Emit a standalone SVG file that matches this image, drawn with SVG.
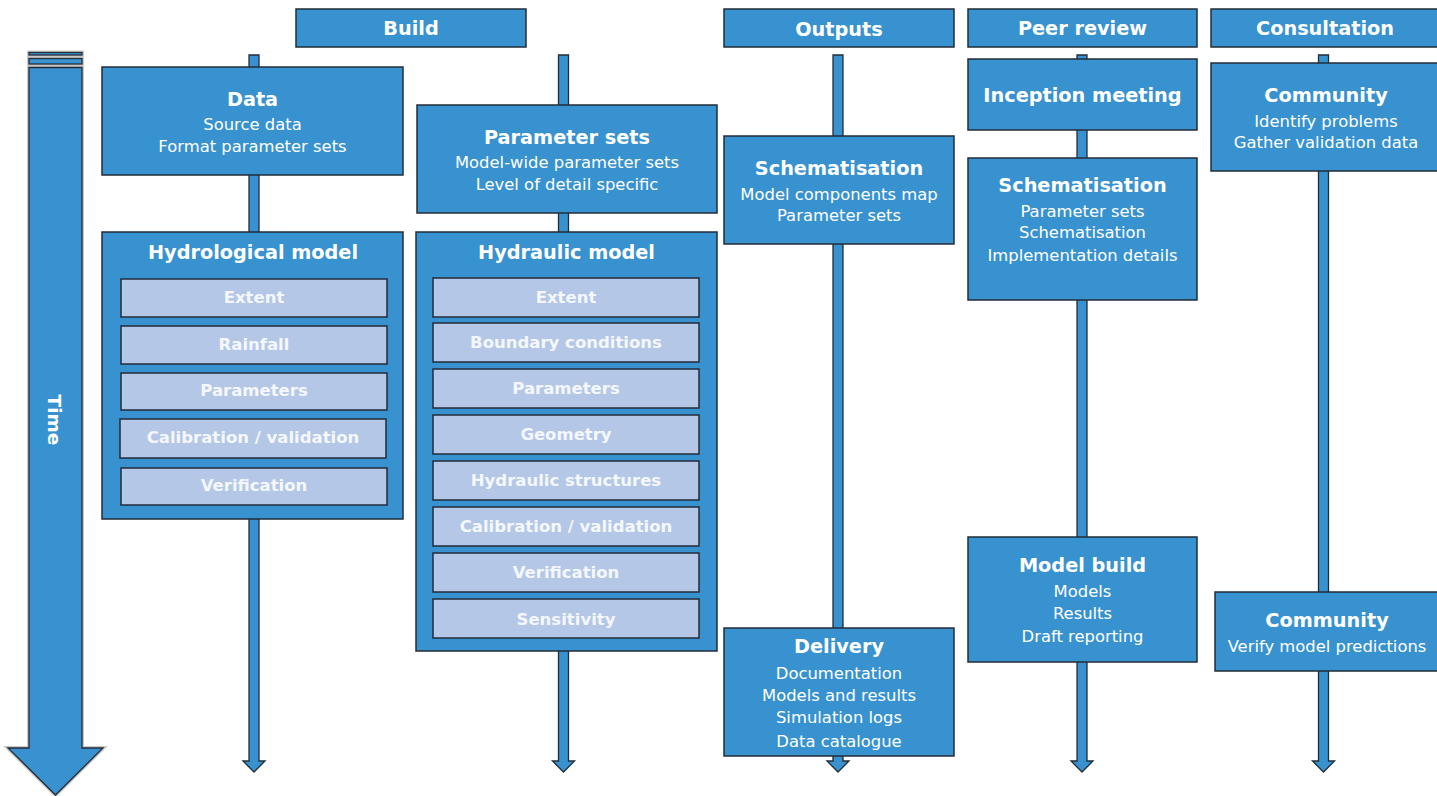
<svg xmlns="http://www.w3.org/2000/svg" width="1437" height="796" viewBox="0 0 1437 796">
<style>
.box{fill:#3892D0;stroke:#222d38;stroke-width:1.5}
.sub{fill:#B4C7E7;stroke:#222d38;stroke-width:1.5}
.arr{fill:#3892D0;stroke:#222d38;stroke-width:1.3}
text{font-family:"DejaVu Sans","Verdana",sans-serif;fill:#fff;text-anchor:middle}
.h{font-size:19.3px;font-weight:bold}
.t{font-size:19.3px;font-weight:bold}
.s{font-size:16.4px}
.i{font-size:16.5px;font-weight:bold;fill:#f4f7fc}
</style>
<rect width="1437" height="796" fill="#fff"/>
<g id="connectors">
<polygon class="arr" points="249,55 259,55 259,761 265,761 254,772 243,761 249,761"/>
<polygon class="arr" points="558.5,55 568.5,55 568.5,761 574.5,761 563.5,772 552.5,761 558.5,761"/>
<polygon class="arr" points="833,55 843,55 843,761 849,761 838,772 827,761 833,761"/>
<polygon class="arr" points="1077,55 1087,55 1087,761 1093,761 1082,772 1071,761 1077,761"/>
<polygon class="arr" points="1318.5,55 1328.5,55 1328.5,761 1334.5,761 1323.5,772 1312.5,761 1318.5,761"/>
</g>
<g id="time">
<g fill="none" stroke="#c8c8c8" stroke-width="4">
<rect x="29" y="52.5" width="53" height="2.5"/>
<rect x="29" y="58.5" width="53" height="5.5"/>
<polygon points="29,67.5 82,67.5 82,748 103,748 55.5,795 8,748 29,748"/>
</g>
<rect class="arr" x="29" y="52.5" width="53" height="2.5"/>
<rect class="arr" x="29" y="58.5" width="53" height="5.5"/>
<polygon class="arr" points="29,67.5 82,67.5 82,748 103,748 55.5,795 8,748 29,748"/>
<text class="t" transform="translate(54,420) rotate(90)" dominant-baseline="central" style="font-size:18.5px">Time</text>
</g>
<g id="hdr-build"><rect class="box" x="296" y="9" width="230" height="38"/><text class="h" x="411" y="35">Build</text></g>
<g id="hdr-outputs"><rect class="box" x="724" y="9" width="230" height="38"/><text class="h" x="839" y="36">Outputs</text></g>
<g id="hdr-peer"><rect class="box" x="968" y="9" width="229" height="38"/><text class="h" x="1082.5" y="35">Peer review</text></g>
<g id="hdr-consult"><rect class="box" x="1211" y="9" width="232" height="38"/><text class="h" x="1325" y="35">Consultation</text></g>

<g id="data"><rect class="box" x="102" y="67" width="301" height="108"/>
<text class="t" x="252.5" y="106">Data</text>
<text class="s" x="252.5" y="130">Source data</text>
<text class="s" x="252.5" y="152">Format parameter sets</text></g>

<g id="paramsets"><rect class="box" x="417" y="105" width="300" height="108"/>
<text class="t" x="567" y="144">Parameter sets</text>
<text class="s" x="567" y="168">Model-wide parameter sets</text>
<text class="s" x="567" y="190">Level of detail specific</text></g>

<g id="hydrological"><rect class="box" x="102" y="232" width="301" height="287"/>
<text class="t" x="253" y="259">Hydrological model</text>
<rect class="sub" x="121" y="279" width="266" height="38"/><text class="i" x="254" y="303">Extent</text>
<rect class="sub" x="121" y="326" width="266" height="38"/><text class="i" x="254" y="350">Rainfall</text>
<rect class="sub" x="121" y="373" width="266" height="37"/><text class="i" x="254" y="396">Parameters</text>
<rect class="sub" x="120" y="419" width="266" height="39"/><text class="i" x="253" y="443">Calibration / validation</text>
<rect class="sub" x="121" y="468" width="266" height="37"/><text class="i" x="254" y="491">Verification</text></g>

<g id="hydraulic"><rect class="box" x="416" y="232" width="301" height="419"/>
<text class="t" x="566.5" y="259">Hydraulic model</text>
<rect class="sub" x="433" y="278" width="266" height="39"/><text class="i" x="566" y="303">Extent</text>
<rect class="sub" x="433" y="323" width="266" height="39"/><text class="i" x="566" y="348">Boundary conditions</text>
<rect class="sub" x="433" y="369" width="266" height="39"/><text class="i" x="566" y="394">Parameters</text>
<rect class="sub" x="433" y="415" width="266" height="39"/><text class="i" x="566" y="440">Geometry</text>
<rect class="sub" x="433" y="461" width="266" height="39"/><text class="i" x="566" y="486">Hydraulic structures</text>
<rect class="sub" x="433" y="507" width="266" height="39"/><text class="i" x="566" y="532">Calibration / validation</text>
<rect class="sub" x="433" y="553" width="266" height="39"/><text class="i" x="566" y="578">Verification</text>
<rect class="sub" x="433" y="599" width="266" height="39"/><text class="i" x="566" y="625">Sensitivity</text></g>

<g id="out-schem"><rect class="box" x="724" y="136" width="230" height="108"/>
<text class="t" x="839" y="175">Schematisation</text>
<text class="s" x="839" y="200">Model components map</text>
<text class="s" x="839" y="221">Parameter sets</text></g>

<g id="delivery"><rect class="box" x="724" y="628" width="230" height="128"/>
<text class="t" x="839" y="653">Delivery</text>
<text class="s" x="839" y="679">Documentation</text>
<text class="s" x="839" y="701">Models and results</text>
<text class="s" x="839" y="723">Simulation logs</text>
<text class="s" x="839" y="747">Data catalogue</text></g>

<g id="inception"><rect class="box" x="968" y="59" width="229" height="71"/>
<text class="t" x="1082.5" y="102">Inception meeting</text></g>

<g id="peer-schem"><rect class="box" x="968" y="158" width="229" height="142"/>
<text class="t" x="1082.5" y="192">Schematisation</text>
<text class="s" x="1082.5" y="217">Parameter sets</text>
<text class="s" x="1082.5" y="238">Schematisation</text>
<text class="s" x="1082.5" y="261">Implementation details</text></g>

<g id="modelbuild"><rect class="box" x="968" y="537" width="229" height="125"/>
<text class="t" x="1082.5" y="572">Model build</text>
<text class="s" x="1082.5" y="597">Models</text>
<text class="s" x="1082.5" y="619">Results</text>
<text class="s" x="1082.5" y="642">Draft reporting</text></g>

<g id="community1"><rect class="box" x="1211" y="63" width="232" height="108"/>
<text class="t" x="1326" y="102">Community</text>
<text class="s" x="1326" y="127">Identify problems</text>
<text class="s" x="1326" y="148">Gather validation data</text></g>

<g id="community2"><rect class="box" x="1215" y="592" width="230" height="79"/>
<text class="t" x="1327" y="627">Community</text>
<text class="s" x="1327" y="652">Verify model predictions</text></g>
</svg>
